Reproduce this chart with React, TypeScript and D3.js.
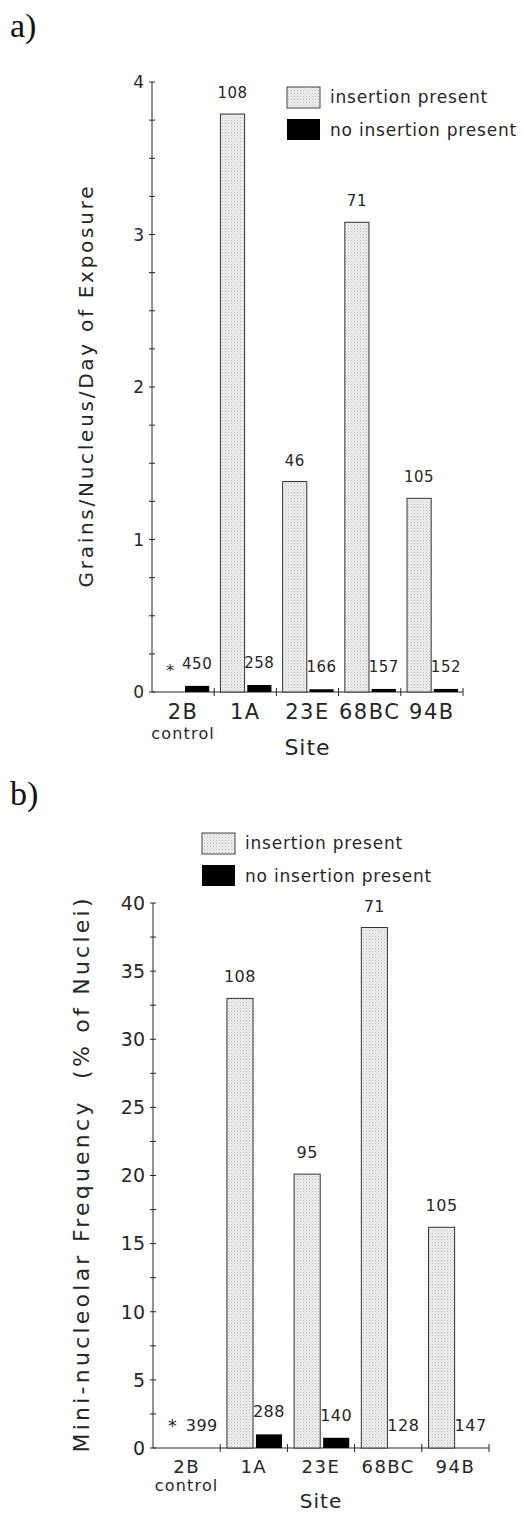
import React from "react"
import * as d3 from "d3"

// sites on the x axis
const sites = ["2B", "1A", "23E", "68BC", "94B"]

// panel a: grains / nucleus / day of exposure
const grainsInsertion = [null, 3.79, 1.38, 3.08, 1.27]
const grainsNoInsertion = [0.04, 0.046, 0.018, 0.02, 0.02]
const grainsInsN = ["*", "108", "46", "71", "105"]
const grainsNoN = ["450", "258", "166", "157", "152"]
const grainsTicks = [0, 1, 2, 3, 4]

// panel b: mini-nucleolar frequency (% of nuclei)
const miniInsertion = [null, 33.0, 20.1, 38.2, 16.2]
const miniNoInsertion = [0, 1.0, 0.75, 0, 0]
const miniInsN = ["*", "108", "95", "71", "105"]
const miniNoN = ["399", "288", "140", "128", "147"]
const miniTicks = [0, 5, 10, 15, 20, 25, 30, 35, 40]

const ink = "#262626"
const font = "'DejaVu Sans', sans-serif"

function Panel({
  tag, tagY, ins, noIns, insN, noN, ticks, minorStep, y0, y1, x0, x1,
  yTitle, yTitleX, yTitleLen, yTitleSize, tickSize, numSize, catSize,
  legX, legY, catY, controlDy, siteDy, siteSize,
}) {
  const y = d3.scaleLinear().domain([0, ticks[ticks.length - 1]]).range([y0, y1])
  const x = d3.scaleBand().domain(sites).range([x0, x1])
  const bw = x.bandwidth()
  const sub = d3.scaleBand().domain(["ins", "no"]).range([0.1 * bw, 0.92 * bw]).paddingInner(0.1)
  const minor = d3.range(0, ticks[ticks.length - 1] + 0.0001, minorStep)
  const midY = (y0 + y1) / 2

  return (
    <g>
      <text x={10} y={tagY} fontFamily="'Liberation Serif', serif" fontSize={34} fill="#111">{tag}</text>

      {/* y axis */}
      <line x1={x0} x2={x0} y1={y0} y2={y1} stroke={ink} />
      {minor.map((v, i) => (
        <line key={"m" + i} x1={x0 - 3} x2={x0 + 3} y1={y(v)} y2={y(v)} stroke={ink} />
      ))}
      {ticks.map(t => (
        <text key={t} x={x0 - 8} y={y(t)} dy="0.36em" textAnchor="end" fontFamily={font} fontSize={tickSize} fill={ink}>{t}</text>
      ))}
      <text transform={`translate(${yTitleX},${midY}) rotate(-90)`} textAnchor="middle" fontFamily={font}
        fontSize={yTitleSize} fill={ink} textLength={yTitleLen} lengthAdjust="spacing" style={{ whiteSpace: "pre" }}>{yTitle}</text>

      {/* x axis */}
      <line x1={x0} x2={x1} y1={y0} y2={y0} stroke={ink} />
      {sites.map(s => (
        <line key={"t" + s} x1={x(s) + bw} x2={x(s) + bw} y1={y0 - 4} y2={y0 + 4} stroke={ink} />
      ))}
      {sites.map(s => (
        <text key={"c" + s} x={x(s) + bw / 2} y={catY} textAnchor="middle" fontFamily={font} fontSize={catSize}
          fill={ink} letterSpacing={1.5}>{s}</text>
      ))}
      <text x={x("2B") + bw / 2} y={catY + controlDy} textAnchor="middle" fontFamily={font} fontSize={16}
        fill={ink} letterSpacing={1.2}>control</text>
      <text x={(x0 + x1) / 2} y={catY + siteDy} textAnchor="middle" fontFamily={font} fontSize={siteSize}
        fill={ink} letterSpacing={1}>Site</text>

      {/* bars */}
      {sites.map((s, i) => (
        <g key={"b" + s}>
          {ins[i] != null && (
            <rect x={x(s) + sub("ins")} y={y(ins[i])} width={sub.bandwidth()} height={y0 - y(ins[i])}
              fill="url(#stip)" stroke="#333" strokeWidth={1} />
          )}
          {noIns[i] > 0 && (
            <rect x={x(s) + sub("no")} y={y(noIns[i])} width={sub.bandwidth()} height={y0 - y(noIns[i])} fill="#000" />
          )}
          <text x={x(s) + sub("ins") + sub.bandwidth() / 2} y={y(ins[i] ?? 0) - 16} textAnchor="middle" fontFamily={font}
            fontSize={insN[i] === "*" ? numSize * 1.1 : numSize} fill={ink} letterSpacing={0.5}>{insN[i]}</text>
          <text x={x(s) + sub("no") + sub.bandwidth() / 2} y={y(noIns[i]) - 17} textAnchor="middle" fontFamily={font}
            fontSize={numSize} fill={ink} letterSpacing={0.5}>{noN[i]}</text>
        </g>
      ))}

      {/* legend */}
      <rect x={legX} y={legY} width={33} height={21} fill="url(#stip)" stroke="#444" />
      <rect x={legX} y={legY + 32} width={33} height={21} fill="#000" />
      <text x={legX + 43} y={legY + 16} fontFamily={font} fontSize={17} fill={ink} letterSpacing={0.8}>insertion present</text>
      <text x={legX + 43} y={legY + 49} fontFamily={font} fontSize={17} fill={ink} letterSpacing={0.8}>no insertion present</text>
    </g>
  )
}

export default function App() {
  return (
    <svg width={523} height={1515} style={{ position: "absolute", left: 0, top: 0, background: "#fff" }}>
      <defs>
        <pattern id="stip" width={3} height={3} patternUnits="userSpaceOnUse">
          <rect width={3} height={3} fill="#efefef" />
          <rect width={1} height={1} fill="#bdbdbd" />
          <rect x={1.5} y={1.5} width={1} height={1} fill="#d2d2d2" />
        </pattern>
      </defs>
      <Panel tag="a)" tagY={37} ins={grainsInsertion} noIns={grainsNoInsertion} insN={grainsInsN} noN={grainsNoN}
        ticks={grainsTicks} minorStep={0.25} y0={692} y1={82} x0={152} x1={463}
        yTitle="Grains/Nucleus/Day of Exposure" yTitleX={93} yTitleLen={401} yTitleSize={20}
        tickSize={17} numSize={15} catSize={21} legX={287} legY={87} catY={719}
        controlDy={20} siteDy={36} siteSize={22} />
      <Panel tag="b)" tagY={805} ins={miniInsertion} noIns={miniNoInsertion} insN={miniInsN} noN={miniNoN}
        ticks={miniTicks} minorStep={2.5} y0={1448} y1={903} x0={153} x1={489}
        yTitle="Mini-nucleolar Frequency  (% of Nuclei)" yTitleX={89} yTitleLen={554} yTitleSize={22}
        tickSize={19} numSize={16} catSize={18} legX={202} legY={833} catY={1473}
        controlDy={18} siteDy={35} siteSize={20} />
    </svg>
  )
}
